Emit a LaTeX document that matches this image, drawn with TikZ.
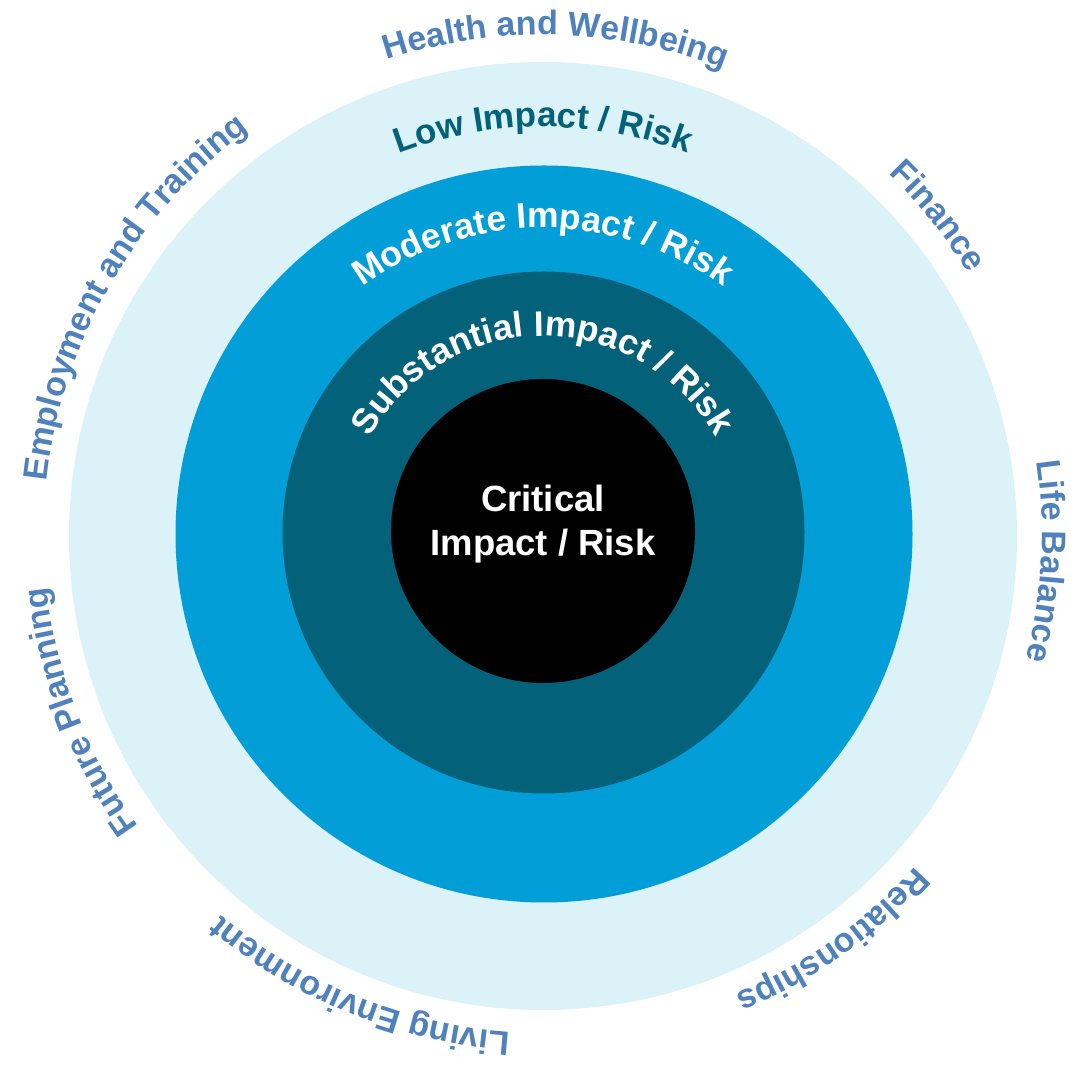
\documentclass[tikz,border=0pt]{standalone}
\usepackage{fontspec}
\setmainfont{Liberation Sans}
\usetikzlibrary{decorations.text}

\definecolor{lowC}{RGB}{219,243,248}
\definecolor{modC}{RGB}{2,158,216}
\definecolor{subC}{RGB}{3,98,122}
\definecolor{areaC}{RGB}{79,129,189}

\newcommand\areafont{\fontsize{34}{40}\selectfont\bfseries\color{areaC}}
\newcommand\lowfont{\fontsize{35}{42}\selectfont\bfseries\color{subC}}
\newcommand\levelfont{\fontsize{35.5}{42}\selectfont\bfseries\color{white}}

\begin{document}
\begin{tikzpicture}[x=1pt,y=1pt]
  \tikzstyle{ring}    = [circle,inner sep=0pt,draw=none]
  \tikzstyle{lowV}    = [ring,fill=lowC,minimum size=948pt]
  \tikzstyle{modV}    = [ring,fill=modC,minimum size=737pt]
  \tikzstyle{subV}    = [ring,fill=subC,minimum size=522pt]
  \tikzstyle{critV}   = [ring,fill=black,minimum size=304pt]
  \tikzstyle{critT}   = [text=white,align=center,inner sep=0pt,font=\fontsize{36.5}{44}\selectfont\bfseries]
  \tikzstyle{arctext} = [decorate,decoration={text along path,text align=center,text format delimiters={|}{|}}]
  \useasboundingbox (0,0) rectangle (1079,1067);
  % rings, outside in
  \path (543,531)     node[lowV](low)   {};
  \path (544,533)     node[modV](mod)   {};
  \path (543.5,534.5) node[subV](sub)   {};
  \path (543,536)     node[critV](crit) {};
  \path (543,543)     node[critT](critText) {Critical\\Impact / Risk};
  \coordinate (c) at (543,533);
  % level names
  \path[arctext,decoration={text={|\lowfont|Low Impact / Risk}}]
    (c) ++(150:407) arc[start angle=150,end angle=30,radius=407];
  \path[arctext,decoration={text={|\levelfont|Moderate Impact / Risk}}]
    (c) ++(160:306) arc[start angle=160,end angle=20,radius=306];
  \path[arctext,decoration={text={|\levelfont|Substantial Impact / Risk}}]
    (c) ++(175:198) arc[start angle=175,end angle=5,radius=198];
  % areas round the outside
  \path[arctext,decoration={text={|\areafont|Health and Wellbeing}}]
    (c) ++(133.5:499) arc[start angle=133.5,end angle=43.5,radius=499];
  \path[arctext,decoration={text={|\areafont|Finance}}]
    (c) ++(83.8:499) arc[start angle=83.8,end angle=-6.2,radius=499];
  \path[arctext,decoration={text={|\areafont|Life Balance}}]
    (c) ++(41.9:499) arc[start angle=41.9,end angle=-48.1,radius=499];
  \path[arctext,decoration={text={|\areafont|Relationships}}]
    (c) ++(-9.5:499) arc[start angle=-9.5,end angle=-99.5,radius=499];
  \path[arctext,decoration={text={|\areafont|Living Environment}}]
    (c) ++(-67:499) arc[start angle=-67,end angle=-157,radius=499];
  \path[arctext,decoration={text={|\areafont|Future Planning}}]
    (c) ++(-114:499) arc[start angle=-114,end angle=-204,radius=499];
  \path[arctext,decoration={text={|\areafont|Employment and Training}}]
    (c) ++(195:499) arc[start angle=195,end angle=105,radius=499];
\end{tikzpicture}
\end{document}
